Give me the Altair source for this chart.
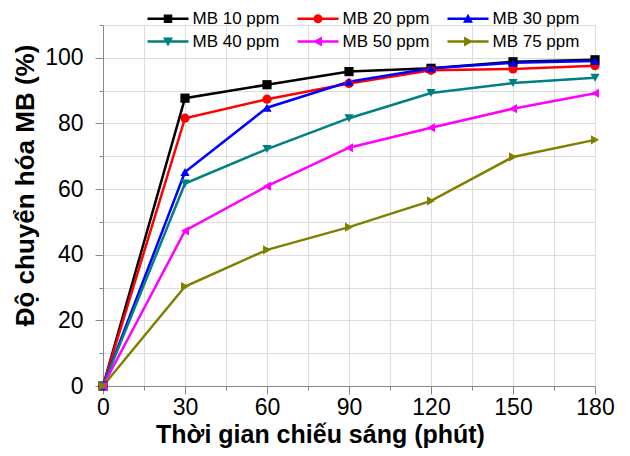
import altair as alt
import pandas as pd

times = [0, 30, 60, 90, 120, 150, 180]
series = ["MB 10 ppm", "MB 20 ppm", "MB 30 ppm", "MB 40 ppm", "MB 50 ppm", "MB 75 ppm"]
mb10 = [0, 87.7, 91.8, 95.8, 96.8, 98.8, 99.4]
mb20 = [0, 81.6, 87.4, 92.2, 96.2, 96.6, 97.6]
mb30 = [0, 65.2, 84.8, 92.7, 96.8, 98.5, 99.0]
mb40 = [0, 61.7, 72.2, 81.6, 89.3, 92.3, 93.9]
mb50 = [0, 47.3, 60.9, 72.6, 78.7, 84.5, 89.2]
mb75 = [0, 30.3, 41.5, 48.4, 56.4, 69.8, 75.0]
colors = ["#000000", "#ff0000", "#0000ff", "#008080", "#ff00ff", "#808000"]
shapes = ["square", "circle", "triangle-up", "triangle-down", "triangle-left", "triangle-right"]

# legend glyphs: short line segment with marker on top
seg = "M-4.1,-0.25H4.1V0.25H-4.1Z"
legend_shapes = [
    seg + "M-0.85,-0.85H0.85V0.85H-0.85Z",
    seg + "M-0.9,0A0.9,0.9,0,1,1,0.9,0A0.9,0.9,0,1,1,-0.9,0Z",
    seg + "M0,-1L1,0.8H-1Z",
    seg + "M0,1L-1,-0.8H1Z",
    seg + "M-1,0L0.8,-1V1Z",
    seg + "M1,0L-0.8,1V-1Z",
]

values = [mb10, mb20, mb30, mb40, mb50, mb75]
rows = []
for name, vals in zip(series, values):
    for t, v in zip(times, vals):
        rows.append({"t": t, "v": v, "s": name})
df = pd.DataFrame(rows)

FONT = "Liberation Sans"

x_enc = alt.X(
    "t:Q",
    scale=alt.Scale(domain=[0, 180], nice=False, zero=True),
    axis=alt.Axis(
        values=list(range(0, 181, 15)),
        labelExpr="datum.value % 30 === 0 ? datum.label : ''",
        tickSize={"condition": {"test": "datum.value % 30 === 0", "value": 8}, "value": 4},
        title="Thời gian chiếu sáng (phút)",
        labelFontSize=23,
        labelPadding=2,
        titleFontSize=25,
        titlePadding=3,
        titleX=217,
        labelFlush=False,
    ),
)
y_enc = alt.Y(
    "v:Q",
    scale=alt.Scale(domain=[0, 110], nice=False),
    axis=alt.Axis(
        values=list(range(0, 111, 10)),
        labelExpr="datum.value % 20 === 0 ? datum.label : ''",
        tickSize={"condition": {"test": "datum.value % 20 === 0", "value": 8}, "value": 4},
        title="Độ chuyển hóa MB (%)",
        labelFontSize=23,
        labelPadding=12,
        titleFontSize=26,
        titlePadding=6,
        titleY=160,
        labelFlush=False,
    ),
)

color_scale = alt.Scale(domain=series, range=colors)

legend_opts = dict(
    title=None, orient="none", legendX=41, legendY=-15, columns=3,
    direction="horizontal",
    symbolSize=100, symbolStrokeWidth=0, symbolOffset=15.5,
    labelOffset=16, labelFont=FONT, labelFontSize=17, labelColor="black",
    columnPadding=14, rowPadding=5, padding=0, symbolOpacity=1,
)

lines = alt.Chart(df).mark_line(strokeWidth=2.5).encode(
    x=x_enc, y=y_enc,
    color=alt.Color("s:N", scale=color_scale, legend=None),
)
points = alt.Chart(df).mark_point(filled=True, opacity=1, size=85).encode(
    x=x_enc, y=y_enc,
    color=alt.Color("s:N", scale=color_scale, legend=None),
    shape=alt.Shape("s:N", scale=alt.Scale(domain=series, range=shapes), legend=None),
)
legend_layer = alt.Chart(df).mark_point(filled=True, size=0).encode(
    x=x_enc, y=y_enc,
    color=alt.Color("s:N", scale=color_scale, legend=alt.Legend(**legend_opts)),
    shape=alt.Shape(
        "s:N", scale=alt.Scale(domain=series, range=legend_shapes),
        legend=alt.Legend(**legend_opts),
    ),
)

chart = alt.layer(lines, points, legend_layer).resolve_scale(
    color="independent", shape="independent"
).properties(
    width=492, height=361,
    autosize=alt.AutoSizeParams(type="none"),
    padding={"left": 103, "top": 25, "right": 35, "bottom": 70},
).configure_view(stroke=None).configure_axis(
    grid=False,
    domainColor="black", domainWidth=1.8,
    tickColor="black", tickWidth=1.8,
    labelColor="black", titleColor="black",
    labelFont=FONT, titleFont=FONT, titleFontWeight="bold",
).configure(background="white")

chart.save("out.html", embed_options={"renderer": "svg", "actions": False})
